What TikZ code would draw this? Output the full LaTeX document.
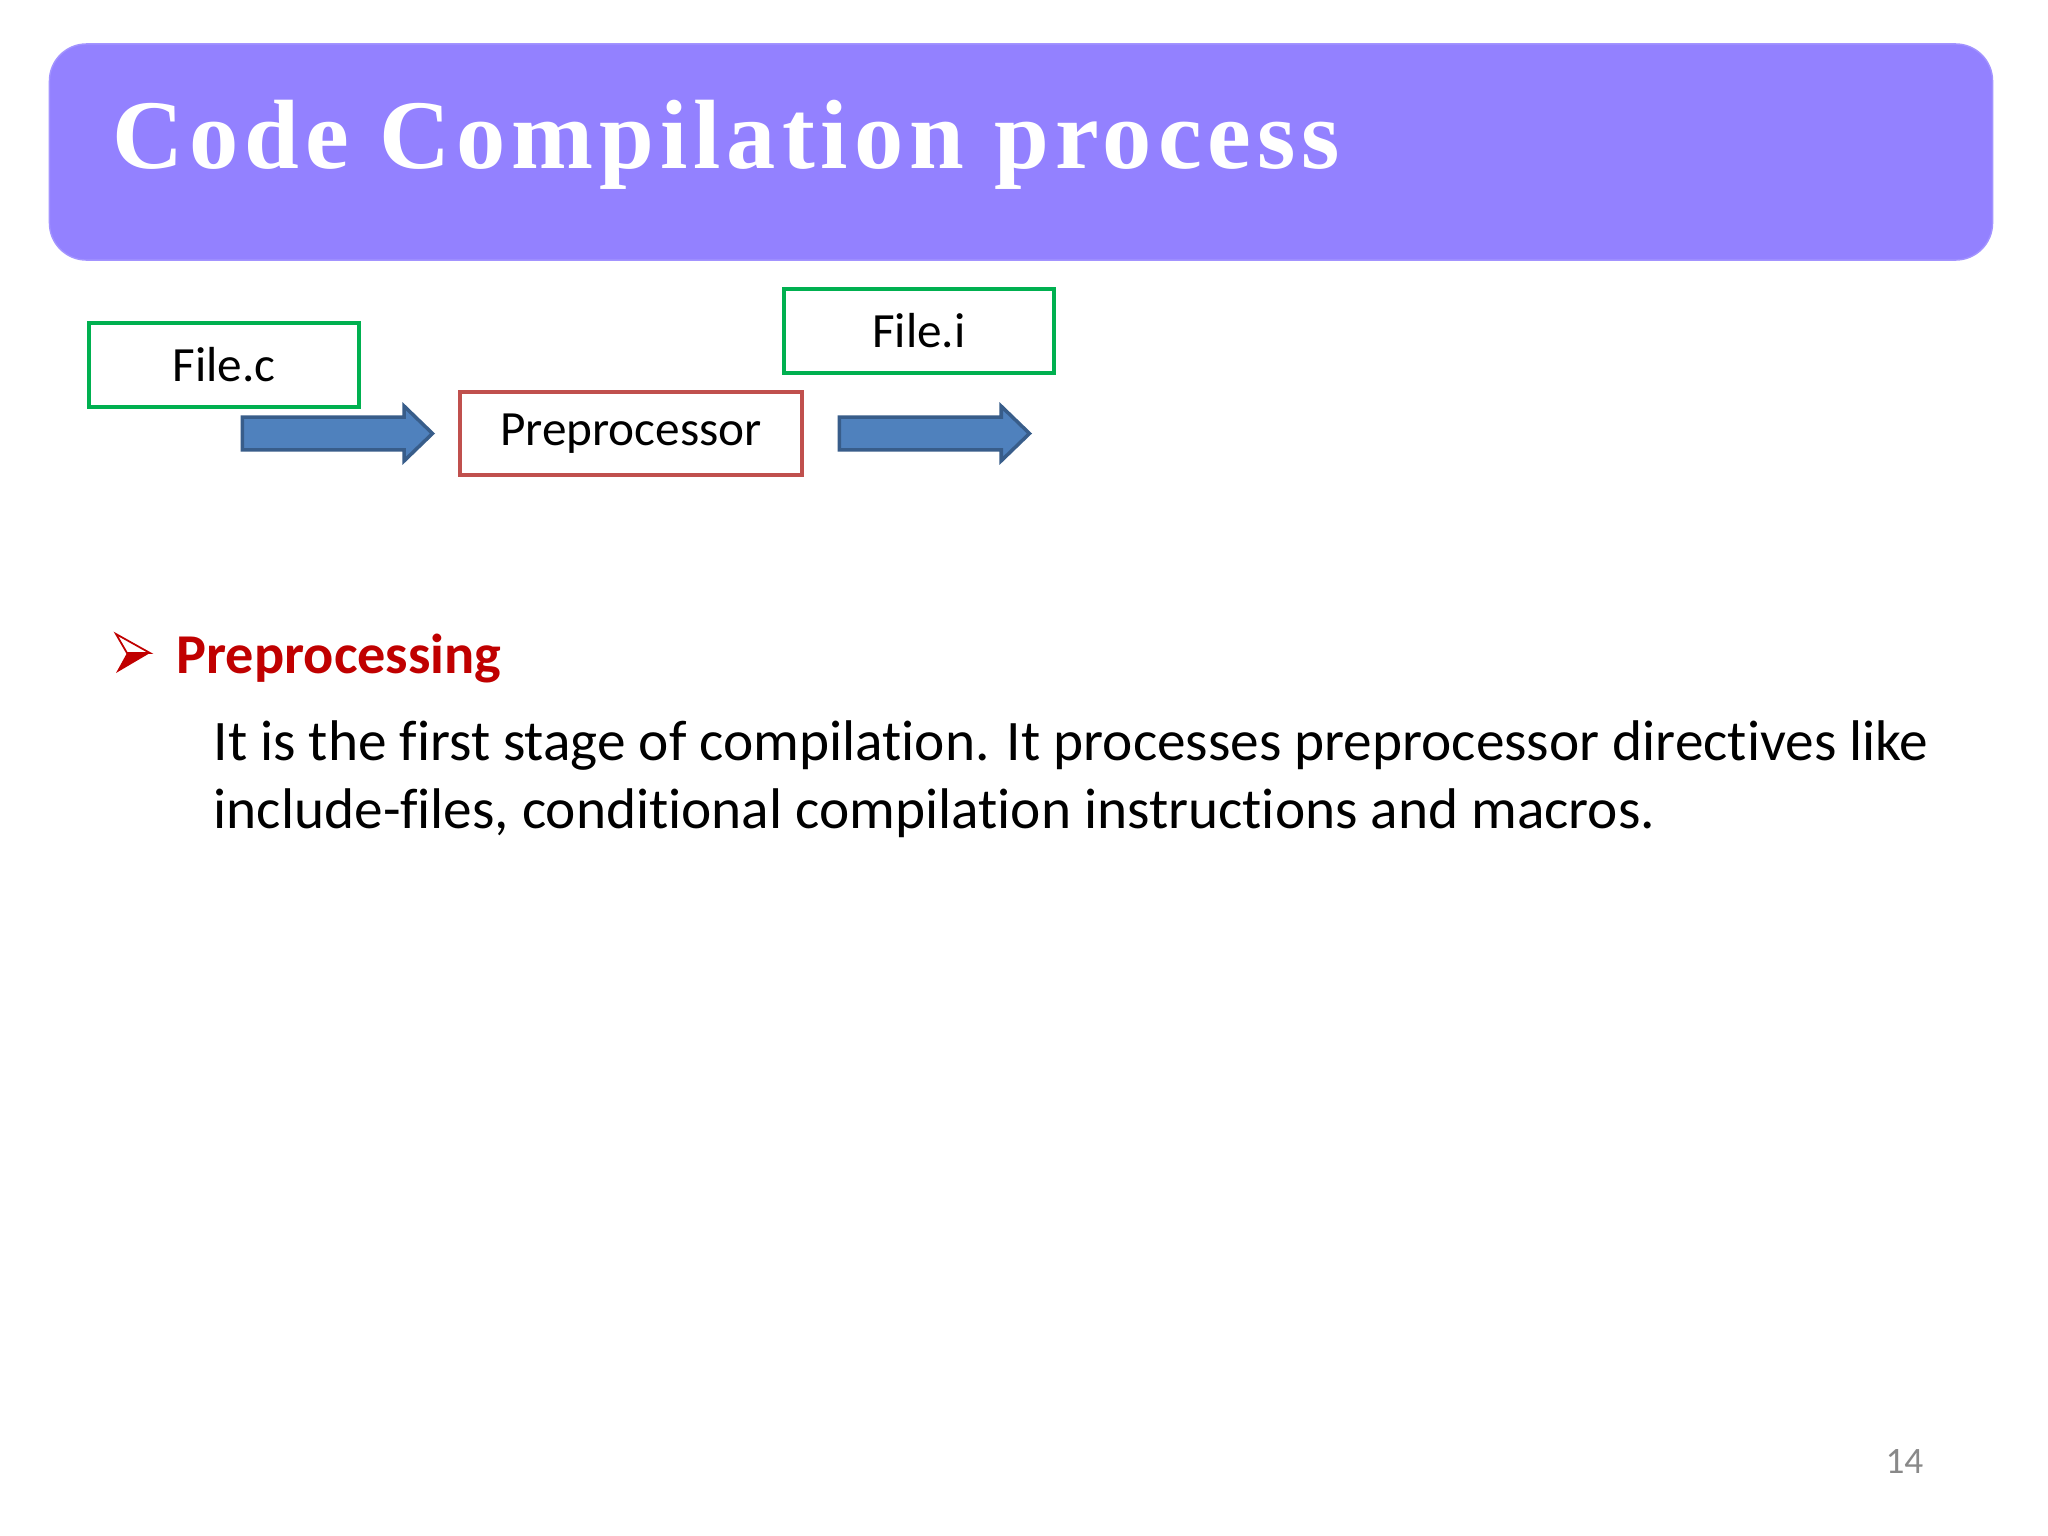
\documentclass[tikz,border=0pt]{standalone}
\usepackage{fontspec}
\usepackage{xcolor}
\usepackage{tikz}
\setmainfont{Carlito}[Ligatures=NoCommon]
\newfontfamily\slidetitle[LetterSpace=6]{Liberation Serif}
\usetikzlibrary{shapes.arrows,positioning}

\definecolor{headfill}{RGB}{147,129,255}
\definecolor{greenline}{RGB}{0,176,80}
\definecolor{redline}{RGB}{192,80,77}
\definecolor{arrowfill}{RGB}{79,129,189}
\definecolor{arrowline}{RGB}{56,93,138}
\definecolor{bulletred}{RGB}{192,0,0}
\definecolor{pagegray}{RGB}{137,137,137}

\tikzset{
  filebox/.style={draw=greenline, line width=1.15pt, minimum width=2.7cm, minimum height=0.84cm,
    inner sep=0pt, font=\fontsize{14}{16}\selectfont},
  stagebox/.style={draw=redline, line width=1.15pt, minimum width=3.42cm, minimum height=0.83cm,
    inner sep=0pt, font=\fontsize{14}{16}\selectfont},
  blockarrow/.style={single arrow, fill=arrowfill, draw=arrowline, line width=1pt,
    minimum height=1.9cm, minimum width=0.52cm, single arrow head extend=0.11cm,
    single arrow tip angle=88, inner sep=0pt, text height=0.145cm, text depth=0.145cm}
}

\begin{document}
\begin{tikzpicture}[x=0.01cm,y=-0.01cm]
    \useasboundingbox (0,0) rectangle (2048,1536);
    \fill[white] (0,0) rectangle (2048,1536);

    % header band
    \node[fill=headfill, draw=headfill!85!white, rounded corners=0.37cm,
          minimum width=19.42cm, minimum height=2.16cm] (header) at (1021,152) {};
    \node[anchor=base west, text=white, inner sep=0pt,
          font=\slidetitle\bfseries\fontsize{28}{34}\selectfont] (title) at (112,168) {Code Compilation process};

    % flow
    \node[filebox] (filec) at (224,365) {File.c};
    \node[stagebox] (prep) at (631,433.5) {Preprocessor};
    \node[filebox] (filei) at (919,331) {File.i};
    \node[blockarrow] (arrowin) at (329,433.5) {};
    \node[blockarrow] (arrowout) at (926,433.5) {};

    % bullet
    \draw[bulletred, line width=0.5pt, line join=miter] (116,634) -- (150,653) -- (127,653) -- cycle;
    \fill[bulletred] (127,653) -- (150,653) -- (116,673) -- cycle;
    \node[anchor=base west, inner sep=0pt, text=bulletred,
          font=\bfseries\fontsize{16}{19}\selectfont] (stage) at (176,673) {Preprocessing};

    \node[anchor=base west, inner sep=0pt, font=\fontsize{16.3}{19.3}\selectfont] (lineone) at (213,760)
        {It is the first stage of compilation. It processes preprocessor directives like};
    \node[anchor=base west, inner sep=0pt, font=\fontsize{16.3}{19.3}\selectfont] (linetwo) at (213,828)
        {include-files, conditional compilation instructions and macros.};

    \node[anchor=base east, inner sep=0pt, text=pagegray,
          font=\fontsize{10.6}{12}\selectfont] (pagenum) at (1924,1473) {14};
\end{tikzpicture}
\end{document}
